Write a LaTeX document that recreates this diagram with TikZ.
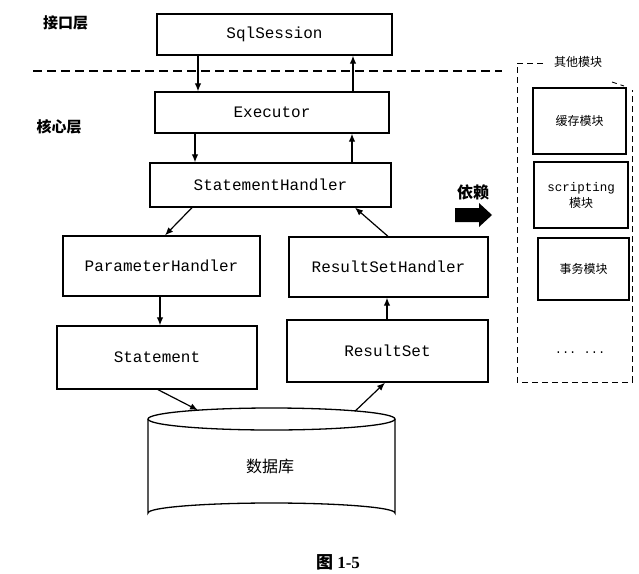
\documentclass[tikz,border=0pt]{standalone}
\usepackage{fontspec}
\setmonofont{Liberation Mono}
\setmainfont{Liberation Serif}
\newfontfamily\cjk{Noto Sans CJK SC}
\usetikzlibrary{arrows.meta}
\begin{document}
\begin{tikzpicture}[x=1pt,y=-1pt,
  box/.style={draw,line width=1.3pt,fill=white,inner sep=0pt,
    font=\ttfamily\fontsize{16}{18}\selectfont},
  modbox/.style={draw,line width=1.1pt,fill=white,inner sep=0pt,
    font=\cjk\fontsize{12}{14}\selectfont,align=center},
  arr/.style={line width=1.2pt,-{Latex[length=8pt,width=6.5pt]}},
  layer/.style={font=\cjk\bfseries\fontsize{15}{17}\selectfont}]
\useasboundingbox (0,0) rectangle (639,573);
\fill[white] (0,0) rectangle (639,573);
% layer labels
\node[layer] (lif) at (65.5,22.5) {接口层};
\node[layer] (lcore) at (59,127) {核心层};
% dashed separator
\coordinate (sepL) at (33,71);
\coordinate (sepR) at (502,71);
\draw[line width=1.2pt,dash pattern=on 9pt off 5pt] (sepL) -- (sepR);
% boxes
\node[box,minimum width=235,minimum height=41] (sql) at (274.5,34.5) {SqlSession};
\node[box,minimum width=234,minimum height=41] (exec) at (272,112.5) {Executor};
\node[box,minimum width=241,minimum height=44] (sh) at (270.5,185) {StatementHandler};
\node[box,minimum width=197,minimum height=60] (ph) at (161.5,266) {ParameterHandler};
\node[box,minimum width=199,minimum height=60] (rsh) at (388.5,267) {ResultSetHandler};
\node[box,minimum width=200,minimum height=63] (st) at (157,357.5) {Statement};
\node[box,minimum width=201,minimum height=62] (rs) at (387.5,351) {ResultSet};
% database
\draw[line width=1.3pt,fill=white] (148,419) -- (148,513) arc[start angle=180,end angle=360,x radius=123.5,y radius=10] -- (395,419);
\draw[line width=1.3pt,fill=white] (271.5,419) ellipse[x radius=123.5,y radius=11];
\node[font=\cjk\fontsize{16}{18}\selectfont] (db) at (270,466) {数据库};
\coordinate (dbin) at (198,410.2);
\coordinate (dbout) at (355,411.2);
% arrows
\draw[arr] ([xshift=-76.5pt]sql.south) -- ([xshift=-74pt]exec.north);
\draw[arr] ([xshift=81pt]exec.north) -- ([xshift=78.5pt]sql.south);
\draw[arr] ([xshift=-77pt]exec.south) -- ([xshift=-75.5pt]sh.north);
\draw[arr] ([xshift=81.5pt]sh.north) -- ([xshift=80pt]exec.south);
\draw[arr] ([xshift=-78.5pt]sh.south) -- ([xshift=3.5pt]ph.north);
\draw[arr] ([xshift=-0.5pt]rsh.north) -- ([xshift=84.5pt]sh.south);
\draw[arr] ([xshift=-1.5pt]ph.south) -- ([xshift=3pt]st.north);
\draw[arr] ([xshift=-0.5pt]rs.north) -- ([xshift=-1.5pt]rsh.south);
\draw[arr] ([xshift=1pt]st.south) -- (dbin);
\draw[arr] (dbout) -- ([xshift=-2.5pt]rs.south);
% dependency
\node[font=\cjk\bfseries\fontsize{16}{18}\selectfont] (dep) at (473,192) {依赖};
\fill (455,208) -- (479,208) -- (479,203) -- (492,215) -- (479,227) -- (479,222) -- (455,222) -- cycle;
% other modules
\draw[line width=1pt,dash pattern=on 6pt off 4pt] (543,63) -- (517,63) -- (517,382) -- (632,382) -- (632,90);
\draw[line width=0.8pt,dash pattern=on 5pt off 4pt] (612,82) -- (624,86);
\node[font=\cjk\fontsize{12}{14}\selectfont] (other) at (578,62) {其他模块};
\node[modbox,minimum width=93,minimum height=66] (cache) at (579.5,121) {缓存模块};
\node[modbox,minimum width=94,minimum height=66] (script) at (581,195) {\ttfamily\fontsize{12.5}{14}\selectfont scripting\\[2pt]模块};
\node[modbox,minimum width=91,minimum height=62] (tx) at (583.5,269) {事务模块};
\node[font=\ttfamily\fontsize{12}{14}\selectfont] (dots) at (580,353) {... ...};
% caption
\node[font=\bfseries\fontsize{17}{20}\selectfont] (cap) at (338,562) {{\cjk\bfseries 图} 1-5};
\end{tikzpicture}
\end{document}
